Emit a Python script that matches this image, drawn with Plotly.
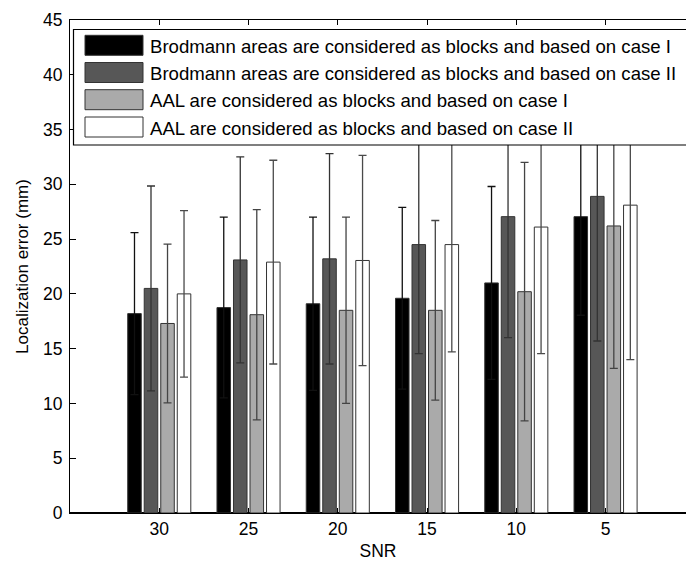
import plotly.graph_objects as go

snr = ["30", "25", "20", "15", "10", "5"]
series_names = [
    "Brodmann areas are considered as blocks and based on case I",
    "Brodmann areas are considered as blocks and based on case II",
    "AAL are considered as blocks and based on case I",
    "AAL are considered as blocks and based on case II",
]
brod_case1 = [18.2, 18.75, 19.1, 19.6, 21.0, 27.05]
brod_case1_err = [7.4, 8.25, 7.9, 8.3, 8.8, 9.0]
brod_case2 = [20.5, 23.1, 23.2, 24.5, 27.05, 28.9]
brod_case2_err = [9.35, 9.4, 9.6, 9.95, 11.05, 13.2]
aal_case1 = [17.3, 18.1, 18.5, 18.5, 20.2, 26.2]
aal_case1_err = [7.25, 9.6, 8.5, 8.2, 11.8, 13.0]
aal_case2 = [20.0, 22.9, 23.05, 24.5, 26.1, 28.1]
aal_case2_err = [7.6, 9.3, 9.6, 9.8, 11.55, 14.1]
yticks = [0, 5, 10, 15, 20, 25, 30, 35, 40, 45]

values = [brod_case1, brod_case2, aal_case1, aal_case2]
errors = [brod_case1_err, brod_case2_err, aal_case1_err, aal_case2_err]
fills = ["#000000", "#575757", "#aaaaaa", "#ffffff"]
err_colors = ["#111111", "#333333", "#444444", "#4a4a4a"]

FONT = "Liberation Sans, Arial, sans-serif"
W, H = 686, 561
ML, MT, MB = 70, 20, 48
PW = W - ML
PH = H - MT - MB

fig = go.Figure()
for name, v, e, fc, ec in zip(series_names, values, errors, fills, err_colors):
    fig.add_trace(go.Bar(
        x=snr, y=v, name=name,
        marker=dict(color=fc, line=dict(color="#333333", width=1)),
        error_y=dict(type="data", array=e, visible=True, color=ec,
                     thickness=1.3, width=4),
        showlegend=False,
    ))

# custom legend (paper coords from pixel positions)
def px(x):
    return (x - ML) / PW

def py(y):
    return (H - MB - y) / PH

shapes = [dict(type="rect", xref="paper", yref="paper",
               x0=px(73.5), x1=px(700), y0=py(145), y1=py(29.5),
               fillcolor="white", line=dict(color="black", width=1.2),
               layer="above")]
annotations = []
centers = [45.3, 72.5, 99.7, 127.0]
for name, fc, cy in zip(series_names, fills, centers):
    shapes.append(dict(type="rect", xref="paper", yref="paper",
                       x0=px(85), x1=px(143), y0=py(cy + 10), y1=py(cy - 10),
                       fillcolor=fc, line=dict(color="#333333", width=1),
                       layer="above"))
    annotations.append(dict(xref="paper", yref="paper", x=px(148), y=py(cy + 1),
                            text=name, showarrow=False, xanchor="left",
                            yanchor="middle",
                            font=dict(family=FONT, size=18.6, color="black")))

fig.update_layout(
    width=W, height=H,
    margin=dict(l=ML, r=0, t=MT, b=MB, pad=0),
    paper_bgcolor="white", plot_bgcolor="white",
    barmode="group", bargap=0.26, bargroupgap=0.18,
    font=dict(family=FONT, size=17, color="black"),
    shapes=shapes, annotations=annotations,
    showlegend=False,
)
fig.update_xaxes(
    type="category", range=[-1, -1 + PW / 89.26],
    showline=True, linecolor="black", linewidth=1, mirror="ticks",
    ticks="inside", ticklen=5, tickcolor="black",
    showgrid=False, zeroline=False,
    tickfont=dict(size=17.5),
    title=dict(text="SNR", font=dict(size=17.5), standoff=6),
)
fig.update_yaxes(
    range=[0, 45], tickvals=yticks,
    showline=True, linecolor="black", linewidth=1,
    ticks="inside", ticklen=6, tickcolor="black",
    showgrid=False, zeroline=True, zerolinecolor="black", zerolinewidth=2,
    tickfont=dict(size=17.5), ticklabelstandoff=3,
    title=dict(text="Localization error (mm)", font=dict(size=17), standoff=10),
)

fig.write_html("out.html")
